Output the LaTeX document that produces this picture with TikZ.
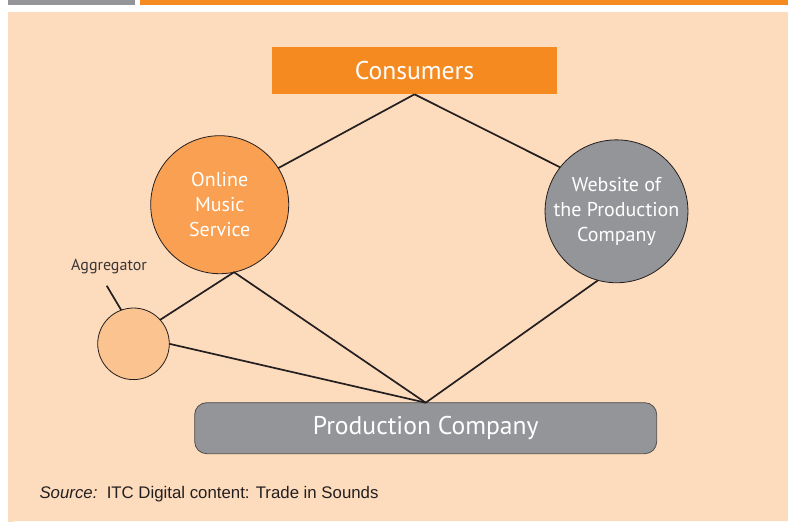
\documentclass[tikz,border=0pt]{standalone}
\usepackage{fontspec}
\setmainfont{PT Sans}
\newfontfamily\srcfont{Liberation Sans}
\definecolor{peach}{HTML}{FDDBBD}
\definecolor{tangerine}{HTML}{F58A21}
\definecolor{apricot}{HTML}{F9A052}
\definecolor{melon}{HTML}{FBC38F}
\definecolor{slate}{HTML}{939598}
\definecolor{ink}{HTML}{231F20}
\newcommand{\textcons}{Consumers}
\newcommand{\textoms}{Online\\Music\\Service}
\newcommand{\textweb}{Website of\\the Production\\Company}
\newcommand{\textprod}{Production Company}
\newcommand{\bigtext}[1]{\fontsize{25.6}{30}\selectfont #1}

\begin{document}
\begin{tikzpicture}[x=1pt,y=-1pt,
	any/.style={align=center,text=white,inner sep=0pt,outer sep=0pt},
	rectbox/.style={any,rectangle,fill=#1},
	disc/.style={any,circle,draw=ink,line width=0.8pt,fill=#1,%
		font=\fontsize{20}{25}\selectfont},
	link/.style={draw=ink,line width=1.7pt}
	]

	\useasboundingbox (0,0) rectangle (788,522);

	% frame
	\fill[slate] (8,0) rectangle (135,5);
	\fill[tangerine] (140,0) rectangle (788,5);
	\fill[peach] (8,12) -- (788,12) -- (788,521) -- (16,521)
		arc[start angle=270,end angle=180,radius=8] -- cycle;

	\node[rectbox=tangerine, minimum width=285pt, minimum height=47.6pt]
		(cons) at (414.5,70.5) {\bigtext{\textcons}};
	\node[disc=apricot, minimum size=138pt] (oms) at (219.7,204.7) {\textoms};
	\node[disc=slate, minimum size=138pt] (web) at (616.5,211.3) {\textweb};
	\node[disc=melon, minimum size=71.6pt] (agg) at (133.5,343.8) {};
	\node[rectbox=slate, draw=ink!80, line width=0.8pt, rounded corners=12pt,%
		minimum width=462pt, minimum height=51pt]
		(prod) at (425.7,428.2) {\bigtext{\textprod}};

	\node[anchor=base, text=ink!90, font=\fontsize{16}{19}\selectfont]
		(agglabel) at (109,270.7) {Aggregator};
	\coordinate (aggtip) at (106.7,285.7);

	\draw[link] (cons.south) -- (oms.32);
	\draw[link] (cons.south) -- (web.142);
	\draw[link] (oms.-78) -- (prod.north);
	\draw[link] (agg.42) -- (oms.-78);
	\draw[link] (agg.east) -- (prod.north);
	\draw[link] (web.-105) -- (prod.north);
	\draw[link] (aggtip) -- (agg.110.7);

	\node[anchor=base west, text=ink, font=\srcfont\fontsize{16.8}{19}\selectfont]
		(src) at (36,498) {\textit{Source:}\ \ ITC Digital content: Trade in Sounds};
\end{tikzpicture}
\end{document}
